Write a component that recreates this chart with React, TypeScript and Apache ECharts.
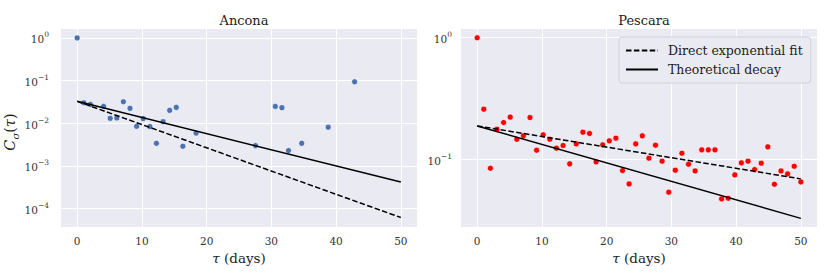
import React, { useEffect, useRef } from "react";
import * as echarts from "echarts";

// ---------- data ----------
const anconaTau = [0, 1.02, 2.04, 4.08, 5.1, 6.12, 7.14, 8.16, 9.18, 10.2, 11.22, 12.24, 13.27, 14.29, 15.31, 16.33, 18.37, 27.55, 30.61, 31.63, 32.65, 34.69, 38.78, 42.86];
const anconaCorr = [1.0, 0.0303, 0.0278, 0.0249, 0.0131, 0.0133, 0.032, 0.0224, 0.0085, 0.0129, 0.0084, 0.0034, 0.0109, 0.0201, 0.0236, 0.0029, 0.0059, 0.003, 0.0249, 0.0232, 0.0023, 0.0034, 0.0081, 0.094];

const pescaraTau = [0, 1.02, 2.04, 3.06, 4.08, 5.1, 6.12, 7.14, 8.16, 9.18, 10.2, 11.22, 12.24, 13.27, 14.29, 15.31, 16.33, 17.35, 18.37, 19.39, 20.41, 21.43, 22.45, 23.47, 24.49, 25.51, 26.53, 27.55, 28.57, 29.59, 30.61, 31.63, 32.65, 33.67, 34.69, 35.71, 36.73, 37.76, 38.78, 39.8, 40.82, 41.84, 42.86, 43.88, 44.9, 45.92, 46.94, 47.96, 48.98, 50];
const pescaraCorr = [1.0, 0.258, 0.0843, 0.1767, 0.2005, 0.222, 0.146, 0.1557, 0.2205, 0.1186, 0.1588, 0.146, 0.1233, 0.1297, 0.0916, 0.1337, 0.167, 0.163, 0.0951, 0.1313, 0.1416, 0.149, 0.0807, 0.0626, 0.1337, 0.1557, 0.102, 0.1304, 0.0963, 0.0535, 0.0812, 0.112, 0.091, 0.0801, 0.1194, 0.1194, 0.1194, 0.0471, 0.0477, 0.0743, 0.0933, 0.0963, 0.0822, 0.0927, 0.1264, 0.0622, 0.0801, 0.0757, 0.0875, 0.065];

const fitTau = [0, 50];
const anconaDirectFit = [0.0327, 6.2e-5];
const anconaTheory = [0.0327, 4.2e-4];
const pescaraDirectFit = [0.188, 0.0689];
const pescaraTheory = [0.188, 0.0326];

const xTicks = [0, 10, 20, 30, 40, 50];
const anconaYTicks = [-4, -3, -2, -1, 0]; // exponents of 10
const pescaraYTicks = [-1, 0];

const titles = ["Ancona", "Pescara"];
const seriesNames = ["Direct exponential fit", "Theoretical decay"];

// ---------- helpers ----------
const FONT = "'DejaVu Serif', serif";
const toPts = (xs: number[], ys: number[]) => xs.map((x, i) => [x, Math.log10(ys[i])]);

const yLabelFormatter = (v: number) => `{b|10}{s|${v < 0 ? "\u2212" + Math.abs(v) : v}}`;

const yRich = {
  b: { fontSize: 10.5, fontFamily: FONT, color: "#333", lineHeight: 14, verticalAlign: "bottom" },
  s: { fontSize: 7.5, fontFamily: FONT, color: "#333", lineHeight: 9, verticalAlign: "top" },
};

export default function App() {
  const ref = useRef<HTMLDivElement>(null);

  useEffect(() => {
    if (!ref.current) return;
    const chart = echarts.init(ref.current, undefined, { renderer: "svg" });

    const grids = [
      { left: 61, top: 29, width: 356, height: 198 },
      { left: 461, top: 29, width: 356, height: 198 },
    ];

    const xAxisBase = (gi: number) => ({
      type: "value",
      gridIndex: gi,
      min: -2.5,
      max: 52.5,
      name: "{t|\u03c4} (days)",
      nameLocation: "middle",
      nameGap: 21,
      nameTextStyle: {
        fontFamily: FONT,
        fontSize: 13.5,
        color: "#222",
        rich: { t: { fontFamily: FONT, fontStyle: "italic", fontSize: 13.5, color: "#222" } },
      },
      axisLine: { show: false },
      axisTick: { show: false, customValues: xTicks },
      axisLabel: {
        customValues: xTicks,
        fontFamily: FONT,
        fontSize: 10.5,
        color: "#333",
        margin: 8,
      },
      splitLine: { show: true, lineStyle: { color: "#ffffff", width: 1 } },
    });

    const yAxisBase = (gi: number, min: number, max: number, ticks: number[], margin: number) => ({
      type: "value",
      gridIndex: gi,
      min,
      max,
      axisLine: { show: false },
      axisTick: { show: false, customValues: ticks },
      axisLabel: {
        customValues: ticks,
        formatter: yLabelFormatter,
        rich: yRich,
        margin,
      },
      splitLine: { show: true, lineStyle: { color: "#ffffff", width: 1 } },
    });

    const yAxes: any[] = [
      {
        ...yAxisBase(0, -4.43, 0.21, anconaYTicks, 12),
        name: "{c|C}{sub|\u03c3}{p|(}{t|\u03c4}{p|)}",
        nameLocation: "middle",
        nameRotate: 90,
        nameGap: 36,
        nameTextStyle: {
          padding: [0, 8, 0, 0],
          rich: {
            c: { fontFamily: FONT, fontStyle: "italic", fontSize: 14.5, color: "#222", lineHeight: 18, verticalAlign: "top" },
            sub: { fontFamily: FONT, fontStyle: "italic", fontSize: 10, color: "#222", lineHeight: 12, verticalAlign: "bottom" },
            p: { fontFamily: FONT, fontSize: 14.5, color: "#222", lineHeight: 18, verticalAlign: "top" },
            t: { fontFamily: FONT, fontStyle: "italic", fontSize: 14.5, color: "#222", lineHeight: 18, verticalAlign: "top" },
          },
        },
      },
      yAxisBase(1, -1.558, 0.072, pescaraYTicks, 9),
    ];

    const scatter = (gi: number, xs: number[], ys: number[], color: string) => ({
      type: "scatter",
      xAxisIndex: gi,
      yAxisIndex: gi,
      data: toPts(xs, ys),
      symbolSize: 6,
      itemStyle: { color, borderColor: "#ffffff", borderWidth: 0.6, opacity: 1 },
      z: 3,
    });

    const fitLine = (gi: number, name: string, ys: number[], dashed: boolean) => ({
      type: "line",
      name,
      xAxisIndex: gi,
      yAxisIndex: gi,
      data: toPts(fitTau, ys),
      symbol: "none",
      itemStyle: { color: "#000000" },
      lineStyle: { color: "#000000", width: 1.5, type: dashed ? [5.5, 2.4] : "solid" },
      z: 4,
    });

    chart.setOption({
      animation: false,
      backgroundColor: "#ffffff",
      title: titles.map((t, i) => ({
        text: t,
        left: grids[i].left + grids[i].width / 2,
        top: 9,
        textAlign: "center",
        textStyle: { fontFamily: FONT, fontSize: 13, fontWeight: "normal", color: "#222" },
      })),
      grid: grids.map((g) => ({ ...g, show: true, backgroundColor: "#EAEAF2", borderWidth: 0 })),
      xAxis: [xAxisBase(0), xAxisBase(1)],
      yAxis: yAxes,
      legend: {
        data: seriesNames,
        orient: "vertical",
        left: 619,
        top: 37,
        itemWidth: 32,
        itemHeight: 14,
        itemGap: 6,
        padding: [7, 8, 7, 6],
        backgroundColor: "#EAEAF2",
        borderColor: "#d2d2d8",
        borderWidth: 1,
        borderRadius: 3,
        itemStyle: { color: "transparent", borderColor: "transparent", borderWidth: 0, opacity: 0 },
        textStyle: { fontFamily: FONT, fontSize: 12.5, color: "#222", padding: [0, 0, 0, 5] },
        selectedMode: false,
      },
      series: [
        scatter(0, anconaTau, anconaCorr, "#4C72B0"),
        fitLine(0, seriesNames[0], anconaDirectFit, true),
        fitLine(0, seriesNames[1], anconaTheory, false),
        scatter(1, pescaraTau, pescaraCorr, "#FF0000"),
        fitLine(1, seriesNames[0], pescaraDirectFit, true),
        fitLine(1, seriesNames[1], pescaraTheory, false),
      ],
    });

    return () => chart.dispose();
  }, []);

  return (
    <div
      ref={ref}
      style={{ position: "fixed", left: 0, top: 0, width: 830, height: 277, background: "#fff" }}
    />
  );
}
